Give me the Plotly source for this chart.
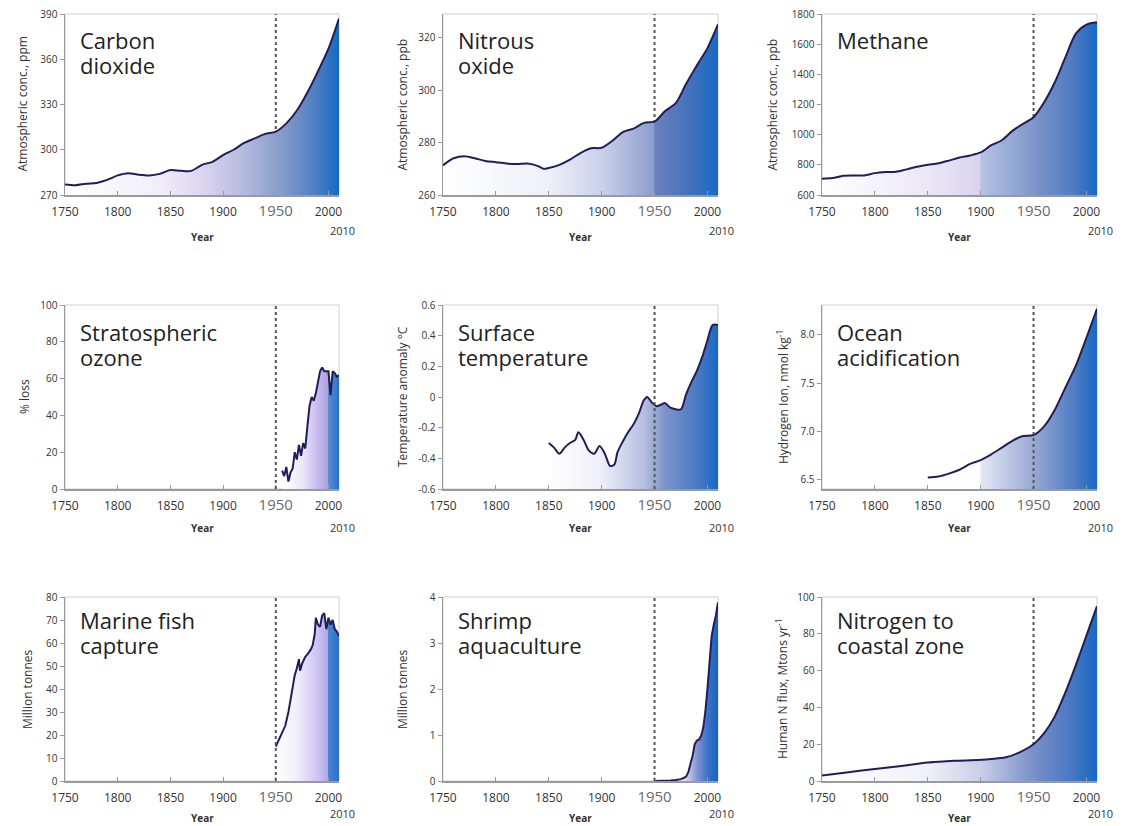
import plotly.graph_objects as go

# ---------------- data ----------------
co2_years = [1750, 1760, 1770, 1780, 1790, 1800, 1810, 1820, 1830, 1840, 1850, 1860, 1870, 1880,
             1890, 1900, 1910, 1920, 1930, 1940, 1950, 1960, 1970, 1980, 1990, 2000, 2010]
co2_ppm = [277, 276.5, 277.5, 278, 280, 283, 284.5, 283.5, 283, 284, 286.5, 286, 286, 290,
           292, 296.5, 300, 304.5, 307.5, 310.5, 312, 317.5, 326, 338, 352, 367, 387]

n2o_years = [1750, 1760, 1770, 1780, 1790, 1800, 1810, 1820, 1830, 1840, 1845, 1850, 1860, 1870,
             1880, 1890, 1900, 1910, 1920, 1930, 1940, 1950, 1960, 1970, 1980, 1990, 2000, 2010]
n2o_ppb = [271.3, 274, 274.8, 274, 273, 272.5, 272, 271.8, 272, 271, 270, 270.3, 271.5, 273.5,
           276, 277.8, 278, 280.6, 284, 285.3, 287.5, 288, 292, 295, 302.5, 309.4, 316, 325]

ch4_years = [1750, 1760, 1770, 1780, 1790, 1800, 1810, 1820, 1830, 1840, 1850, 1860, 1870, 1880,
             1890, 1900, 1910, 1920, 1930, 1940, 1950, 1960, 1970, 1980, 1990, 2000, 2010]
ch4_ppb = [708, 712, 728, 730, 730, 745, 752, 754, 770, 787, 800, 810, 828, 848,
           862, 882, 930, 963, 1025, 1072, 1116, 1215, 1346, 1511, 1670, 1730, 1745]

ozone_years = [1956, 1958, 1960, 1962, 1964, 1966, 1968, 1970, 1972, 1974, 1976, 1978, 1980, 1982,
               1984, 1986, 1988, 1990, 1992, 1994, 1996, 1998, 2000, 2002, 2004, 2006, 2008, 2010]
ozone_loss = [10, 7, 12, 4, 9, 11, 20, 16, 24, 18, 25, 22, 34, 45,
              50, 48, 52, 58, 64, 66, 64, 64, 64, 51, 64, 63, 61, 62]

temp_years = [1850, 1855, 1860, 1865, 1870, 1875, 1878, 1883, 1888, 1893, 1898, 1903, 1908, 1912,
              1915, 1920, 1925, 1930, 1935, 1940, 1943, 1948, 1952, 1956, 1960, 1965, 1970, 1975,
              1980, 1985, 1990, 1995, 2000, 2005, 2010]
temp_anom = [-0.30, -0.33, -0.37, -0.33, -0.30, -0.28, -0.23, -0.28, -0.35, -0.37, -0.32, -0.37, -0.45, -0.44,
             -0.36, -0.29, -0.23, -0.18, -0.11, -0.02, 0.0, -0.04, -0.06, -0.05, -0.04, -0.07, -0.08, -0.08,
             0.02, 0.10, 0.17, 0.26, 0.37, 0.47, 0.47]

ocean_years = [1850, 1860, 1870, 1880, 1890, 1900, 1910, 1920, 1930, 1940, 1950, 1960, 1970, 1980,
               1990, 2000, 2010]
ocean_h = [6.52, 6.53, 6.56, 6.60, 6.66, 6.70, 6.76, 6.83, 6.90, 6.95, 6.96, 7.05, 7.22, 7.45,
           7.68, 7.97, 8.27]

fish_years = [1950, 1953, 1956, 1959, 1962, 1965, 1968, 1970, 1972, 1973, 1975, 1978, 1980, 1983,
              1985, 1987, 1988, 1990, 1992, 1994, 1996, 1998, 2000, 2002, 2004, 2006, 2008, 2010]
fish_mt = [15, 18, 21, 24, 30, 38, 46, 49, 53, 48, 51, 54, 55, 57,
           59, 64, 71, 68, 67, 72, 73, 66, 71, 68, 70, 66, 65, 63]

shrimp_years = [1950, 1955, 1960, 1965, 1970, 1975, 1978, 1980, 1982, 1984, 1986, 1988, 1990, 1992,
                1994, 1996, 1998, 2000, 2002, 2004, 2006, 2008, 2010]
shrimp_mt = [0, 0, 0.01, 0.01, 0.02, 0.04, 0.07, 0.1, 0.2, 0.35, 0.55, 0.8, 0.88, 0.9,
             0.98, 1.15, 1.5, 2.0, 2.6, 3.15, 3.4, 3.6, 3.88]

nitro_years = [1750, 1775, 1800, 1825, 1850, 1875, 1900, 1925, 1940, 1950, 1960, 1970, 1980, 1990,
               2000, 2010]
nitro_flux = [3, 4.8, 6.5, 8.2, 10, 11, 11.5, 13, 16.5, 20, 26, 35, 48, 63, 79, 95]

x_tick_years = [1750, 1800, 1850, 1900, 1950, 2000]

# ---------------- panel setup ----------------
FONT = "Open Sans"
W, H = 1125, 826
col_px = [(65, 339), (443, 718), (822, 1097)]
row_px = [(14, 195), (305, 489), (597, 781)]
title_shift = [-9, -10, -6]
year_shift = [-42, -39, -37]
end_shift = [-35, -38, -32]

panels = [
    dict(title=["Carbon", "dioxide"], x=co2_years, y=co2_ppm, yrange=[270, 390],
         yticks=[270, 300, 330, 360, 390], ytext=None, ytitle="Atmospheric conc., ppm",
         shape="spline", dot="below", ytoff=43,
         grad=[(1750, "#ffffff"), (1840, "#f1eef9"), (1880, "#dcd5f1"), (1920, "#b4bade"),
               (1960, "#7f98c9"), (1990, "#4a7cc2"), (2010, "#1769c4")]),
    dict(title=["Nitrous", "oxide"], x=n2o_years, y=n2o_ppb, yrange=[260, 329],
         yticks=[260, 280, 300, 320], ytext=None, ytitle="Atmospheric conc., ppb",
         shape="spline", dot="below", ytoff=41,
         grad=[(1750, "#ffffff"), (1850, "#eef0f8"), (1900, "#c9d1ea"), (1949.5, "#8d9ecd"),
               (1950, "#6b82bf"), (1980, "#4a72ba"), (2010, "#1769c4")]),
    dict(title=["Methane"], x=ch4_years, y=ch4_ppb, yrange=[600, 1800],
         yticks=list(range(600, 1801, 200)), ytext=None, ytitle="Atmospheric conc., ppb",
         shape="spline", dot="below", ytoff=50,
         grad=[(1750, "#ffffff"), (1850, "#ebe7f5"), (1899.5, "#d9d3ee"), (1900, "#b6c4e2"),
               (1950, "#7e96c9"), (1990, "#4d78c1"), (2010, "#1769c4")]),
    dict(title=["Stratospheric", "ozone"], x=ozone_years, y=ozone_loss, yrange=[0, 100],
         yticks=list(range(0, 101, 20)), ytext=None, ytitle="% loss",
         shape="linear", dot="above", ytoff=41,
         grad=[(1956, "#ffffff"), (1975, "#ece8fa"), (1990, "#c6b9ef"), (1999.5, "#a9a3dc"),
               (2000, "#5b8dd2"), (2010, "#2a71c9")]),
    dict(title=["Surface", "temperature"], x=temp_years, y=temp_anom, yrange=[-0.6, 0.6],
         yticks=[-0.6, -0.4, -0.2, 0, 0.2, 0.4, 0.6],
         ytext=["-0.6", "-0.4", "-0.2", "0", "0.2", "0.4", "0.6"],
         ytitle="Temperature anomaly °C",
         shape="spline", dot="above", ytoff=41,
         grad=[(1850, "#ffffff"), (1900, "#eeeef8"), (1940, "#b5bfe0"), (1960, "#7c93ca"),
               (1990, "#4a7ac2"), (2010, "#1769c4")]),
    dict(title=["Ocean", "acidification"], x=ocean_years, y=ocean_h, yrange=[6.4, 8.31],
         yticks=[6.5, 7.0, 7.5, 8.0], ytext=["6.5", "7.0", "7.5", "8.0"],
         ytitle="Hydrogen Ion, nmol kg<sup>-1</sup>",
         shape="spline", dot="above", ytoff=39,
         grad=[(1850, "#ffffff"), (1899.5, "#ffffff"), (1900, "#e6e7f4"), (1950, "#98a9d4"),
               (1990, "#4d7bc2"), (2010, "#1769c4")]),
    dict(title=["Marine fish", "capture"], x=fish_years, y=fish_mt, yrange=[0, 80],
         yticks=list(range(0, 81, 10)), ytext=None, ytitle="Million tonnes",
         shape="linear", dot="above", ytoff=38,
         grad=[(1950, "#ffffff"), (1970, "#f0eefb"), (1990, "#cdc3f2"), (1999.5, "#aea8e6"),
               (2000, "#4c82d1"), (2010, "#2a71c9")]),
    dict(title=["Shrimp", "aquaculture"], x=shrimp_years, y=shrimp_mt, yrange=[0, 4],
         yticks=[0, 1, 2, 3, 4], ytext=None, ytitle="Million tonnes",
         shape="linear", dot="above", ytoff=41,
         grad=[(1950, "#ffffff"), (1978, "#e2e2f4"), (1990, "#8694d6"), (2000, "#3c72c8"),
               (2010, "#1762c0")]),
    dict(title=["Nitrogen to", "coastal zone"], x=nitro_years, y=nitro_flux, yrange=[0, 100],
         yticks=list(range(0, 101, 20)), ytext=None, ytitle="Human N flux, Mtons yr<sup>-1</sup>",
         shape="spline", dot="below", ytoff=40,
         grad=[(1750, "#ffffff"), (1850, "#f0f0f8"), (1900, "#cacee9"), (1950, "#7990c9"),
               (1985, "#4a78c2"), (2010, "#1769c4")]),
]

LINE_COLOR = "#1f1d5a"
AXIS_COLOR = "#9a9a9a"
TEXT_COLOR = "#333333"

fig = go.Figure()
layout = dict(
    width=W, height=H, margin=dict(l=0, r=0, t=0, b=0, pad=0, autoexpand=False),
    paper_bgcolor="white", plot_bgcolor="white", showlegend=False,
    font=dict(family=FONT, color=TEXT_COLOR),
)
annotations = []
shapes = []

x_ticktext = [
    f"<span style='font-size:15px;fill:#6a6a6a'>{v}</span>" if v == 1950 else str(v)
    for v in x_tick_years
]

for i, p in enumerate(panels):
    r, c = divmod(i, 3)
    n = "" if i == 0 else str(i + 1)
    xa, ya = "x" + n, "y" + n
    x0, x1 = col_px[c]
    t0, t1 = row_px[r]
    layout["xaxis" + n] = dict(
        domain=[x0 / W, x1 / W], range=[1750, 2010], anchor=ya, automargin=False,
        tickvals=x_tick_years, ticktext=x_ticktext, ticks="inside", ticklen=4,
        tickcolor=AXIS_COLOR, showline=True, linecolor=AXIS_COLOR, linewidth=1.5,
        showgrid=False, zeroline=False, ticklabelstandoff=5,
        tickfont=dict(size=12, color=TEXT_COLOR, family=FONT), fixedrange=True,
    )
    yax = dict(
        domain=[1 - t1 / H, 1 - t0 / H], range=p["yrange"], anchor=xa, automargin=False,
        tickvals=p["yticks"], ticks="outside", ticklen=4, tickcolor=AXIS_COLOR,
        showline=True, linecolor=AXIS_COLOR, linewidth=1.5, showgrid=False, zeroline=False,
        tickfont=dict(size=10, color=TEXT_COLOR, family=FONT), fixedrange=True,
    )
    if p["ytext"] is not None:
        yax["ticktext"] = p["ytext"]
    layout["yaxis" + n] = yax

    # gradient colorscale from (year, colour) stops
    g0, g1 = p["grad"][0][0], p["grad"][-1][0]
    cs = [[(yr - g0) / (g1 - g0), col] for yr, col in p["grad"]]

    if p["yrange"][0] < 0:
        # baseline at bottom of axis for negative-valued series
        fig.add_trace(go.Scatter(
            x=p["x"], y=[p["yrange"][0]] * len(p["x"]), mode="lines",
            line=dict(width=0, color="rgba(0,0,0,0)"), hoverinfo="skip",
            xaxis=xa, yaxis=ya))
        fillmode = "tonexty"
    else:
        fillmode = "tozeroy"

    fig.add_trace(go.Scatter(
        x=p["x"], y=p["y"], mode="lines",
        line=dict(color=LINE_COLOR, width=2, shape=p["shape"], smoothing=0.8),
        fill=fillmode,
        fillgradient=dict(type="horizontal", start=g0, stop=g1, colorscale=cs),
        xaxis=xa, yaxis=ya, hoverinfo="x+y"))

    # frame
    shapes.append(dict(type="rect", xref=xa + " domain", yref=ya + " domain",
                       x0=0, x1=1, y0=0, y1=1, line=dict(color="#cfcfcf", width=1),
                       layer="below"))
    # 1950 marker
    shapes.append(dict(type="line", xref=xa, yref=ya + " domain", x0=1950, x1=1950,
                       y0=0, y1=1, line=dict(color="#555555", width=2, dash="dot"),
                       layer=p["dot"]))

    # panel titles
    for k, line in enumerate(p["title"]):
        annotations.append(dict(
            text=line, xref=xa + " domain", yref=ya + " domain", x=0, y=1,
            xanchor="left", yanchor="top", xshift=13, yshift=title_shift[r] - 25 * k,
            showarrow=False, font=dict(size=22, color="#222222", family=FONT)))
    # y title
    annotations.append(dict(
        text=p["ytitle"], xref=xa + " domain", yref=ya + " domain", x=0, y=0.5,
        xanchor="center", yanchor="middle", xshift=-p["ytoff"], textangle=-90,
        showarrow=False, font=dict(size=12, color=TEXT_COLOR, family=FONT)))
    # x title
    annotations.append(dict(
        text="<b>Year</b>", xref=xa + " domain", yref=ya + " domain", x=0.5, y=0,
        xanchor="center", yanchor="middle", yshift=year_shift[r],
        showarrow=False, font=dict(size=10, color=TEXT_COLOR, family=FONT)))
    # 2010 end label
    annotations.append(dict(
        text="2010", xref=xa, yref=ya + " domain", x=2010, y=0,
        xanchor="center", yanchor="middle", xshift=3, yshift=end_shift[r],
        showarrow=False, font=dict(size=11, color=TEXT_COLOR, family=FONT)))

layout["annotations"] = annotations
layout["shapes"] = shapes
fig.update_layout(**layout)
fig.write_html(
    "out.html",
    config={"displayModeBar": False, "staticPlot": True},
    post_script="document.body.style.margin='0px';document.body.style.overflow='hidden';",
)
